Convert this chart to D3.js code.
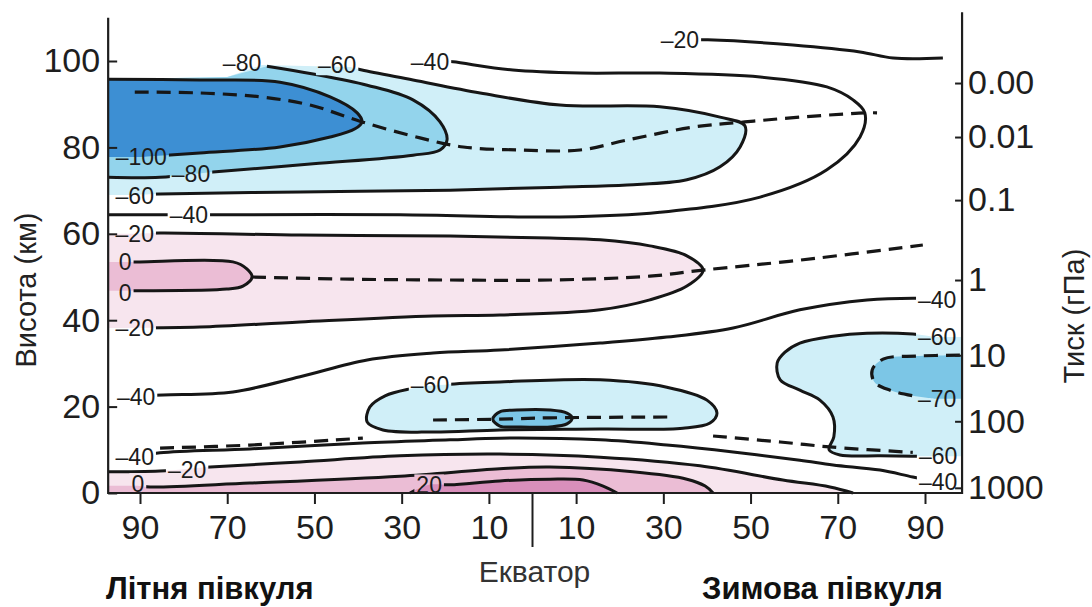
<!DOCTYPE html>
<html>
<head>
<meta charset="utf-8">
<script src="https://cdn.jsdelivr.net/npm/d3@7"></script>
<style>
  html, body { margin: 0; padding: 0; background: #fff; }
  svg { display: block; font-family: "Liberation Sans", Arial, Helvetica, sans-serif; }
</style>
</head>
<body>
<svg id="chart" width="1092" height="607"></svg>
<script>
// Zonal-mean temperature (°C) by latitude and altitude, solstice conditions.
// Latitude is signed: negative = summer hemisphere (left), positive = winter hemisphere (right).
// Every isotherm is a list of [latitude, altitude km] points.

const latTicks = [-90, -70, -50, -30, -10, 10, 30, 50, 70, 90];
const altTicks = [0, 20, 40, 60, 80, 100];
const pressureLabels = ["0.00", "0.01", "0.1", "1", "10", "100", "1000"];
const pressureAlt = [94.9, 82.4, 67.8, 49.3, 31.9, 16.6, 1.2];

// plot frame extents
const latLeft = -97.3, latRight = 98.5, altTopLeft = 110, altTopRight = 111.3;

// upper (mesosphere / thermosphere) isotherms
const isoM100 = [[-97.3,95.8],[-76.3,95.6],[-57.9,95.1],[-46.4,91.7],[-40.2,88.0],[-39.1,85.9],[-40.7,84.3],[-46.4,82.4],[-57.9,80.1],[-76.3,78.7],[-89.7,77.8]];
const isoM80 = [[-97.3,73.1],[-85.4,73.1],[-73.3,74.3],[-50.3,76.2],[-27.4,78.2],[-21.2,79.4],[-19.6,81.7],[-21.2,85.9],[-27.4,91.0],[-37.9,94.4],[-50.3,97.0],[-60.9,98.8]];
const isoM60Upper = [[-91.2,69.0],[-85.4,69.2],[-53.3,69.7],[-18.9,70.1],[6.3,70.8],[21.7,71.3],[35.4,72.5],[43.0,75.5],[47.6,80.1],[48.7,85.0],[43.0,87.0],[29.2,89.4],[6.3,89.8],[-12.0,92.6],[-27.4,95.6],[-39.1,97.9],[-41.8,98.6]];
const isoM40Upper = [[-97.3,64.4],[-72.8,64.4],[-30.4,64.4],[6.3,63.9],[29.2,65.0],[52.2,68.5],[67.5,74.8],[75.1,82.4],[76.2,88.0],[73.5,91.0],[67.5,94.0],[52.2,96.3],[29.2,97.2],[10.9,97.2],[-4.5,97.9],[-18.2,99.8],[-20.6,100.0]];
const isoM20Top = [[37.5,104.9],[40.2,104.9],[59.7,103.7],[75.1,102.1],[82.7,100.7],[94.1,100.7]];
const upperEdge = [[-62.0,99.1],[-70.0,96.3],[-97.3,95.8]];

// stratosphere isotherms
const isoM20Strat = [[-91.2,60.0],[-85.4,60.2],[-53.3,59.7],[-18.9,59.5],[4.0,59.0],[15.5,58.6],[26.9,57.2],[35.4,54.9],[39.1,51.6],[35.4,47.9],[26.9,44.7],[15.5,42.4],[-7.5,41.2],[-22.8,41.0],[-53.3,39.6],[-76.3,38.4],[-91.2,38.2]];
const iso0Strat = [[-93.4,53.5],[-90.0,53.5],[-68.7,53.5],[-65.5,51.9],[-64.3,50.0],[-66.4,47.9],[-70.1,47.2],[-90.0,46.8],[-93.4,46.8]];
const isoM40Mid = [[-90.9,22.4],[-84.7,22.7],[-68.7,23.4],[-53.3,26.9],[-37.9,30.8],[-22.8,32.4],[-7.5,33.1],[15.5,34.7],[30.8,36.1],[46.0,38.2],[61.3,42.4],[76.7,44.7],[88.2,45.1],[92.8,44.9]];
const isoM60Trop = [[-23.5,24.8],[-18.9,25.2],[-7.5,25.7],[15.5,26.2],[30.8,24.5],[40.0,21.5],[42.3,18.5],[40.7,16.2],[34.5,15.0],[15.5,14.8],[-7.5,14.6],[-22.8,14.1],[-34.3,14.6],[-37.9,16.4],[-37.3,19.9],[-33.8,22.5],[-28.1,24.1]];
const isoM70Trop = [[-9.1,17.1],[-7.5,18.8],[-3.6,19.2],[4.0,19.2],[7.9,18.5],[9.1,17.4],[7.9,16.0],[4.0,15.3],[-3.6,15.3],[-7.5,15.5]];
const isoM60Winter = [[92.3,36.1],[87.2,36.8],[76.7,37.0],[68.9,36.3],[61.3,34.7],[57.9,32.6],[56.1,30.1],[56.8,26.2],[61.3,23.8],[65.9,21.5],[68.9,17.6],[69.1,13.0],[68.0,10.0],[70.5,8.8],[79.7,8.6],[87.2,8.5],[92.3,8.5]];
const isoM70Winter = [[98.0,31.9],[88.2,31.7],[80.4,31.0],[77.9,28.5],[78.4,25.7],[82.0,23.8],[87.2,22.5],[92.3,21.8]];

// troposphere isotherms
const isoM40Low = [[-91.2,8.3],[-85.4,9.3],[-64.8,10.2],[-38.9,11.6],[-18.9,12.3],[-7.5,12.7],[15.5,12.3],[30.8,11.1],[46.0,9.5],[61.3,7.6],[68.9,6.5],[79.7,5.3],[87.2,3.7],[93.0,2.6]];
const isoM20Low = [[-97.3,4.9],[-85.4,5.1],[-73.9,6.0],[-53.3,7.2],[-30.4,8.6],[-7.5,9.0],[15.5,8.3],[38.4,6.3],[57.4,3.0],[68.2,1.4],[73.5,0]];
const iso0Low = [[-90.5,1.7],[-87.7,1.4],[-64.8,2.3],[-30.4,3.9],[-7.5,5.6],[4.0,6.0],[23.0,4.9],[35.4,3.2],[39.6,1.6],[41.4,0]];
const iso20 = [[-28.1,0],[-23.7,1.9],[-18.9,1.9],[-7.5,2.8],[4.0,3.2],[11.6,3.0],[16.2,1.6],[19.4,0]];

// temperature-minimum / maximum axes (mesopause, stratopause, tropopause)
const dashMeso = [[-91.2,92.8],[-76.3,92.6],[-62.5,91.7],[-51.0,89.8],[-39.1,85.9],[-25.8,82.2],[-15.9,80.1],[-2.9,79.4],[10.9,79.4],[21.7,81.7],[36.8,84.7],[48.7,85.9],[61.3,87.0],[76.2,88.0],[79.0,88.0]];
const dashStrato = [[-64.3,50.0],[-41.8,49.5],[-18.9,49.3],[4.0,49.3],[26.9,50.2],[39.1,51.6],[61.3,53.9],[89.5,57.4]];
const dashTropoSummer = [[-85.4,10.4],[-64.8,11.1],[-38.9,12.7]];
const dashTropoTropics = [[-22.8,16.9],[-7.5,17.1],[4.0,17.4],[31.5,17.6]];
const dashTropoWinter = [[41.4,13.2],[56.8,11.8],[68.9,10.6],[87.2,9.4]];

// isotherm value labels: [latitude, altitude, text]
const contourLabels = [
  [-89.7, 77.8, "–100"], [-78.3, 73.8, "–80"], [-91.2, 68.8, "–60"], [-78.8, 64.4, "–40"],
  [-91.2, 60.0, "–20"], [-93.4, 53.5, "0"], [-93.4, 46.3, "0"], [-91.2, 38.2, "–20"],
  [-90.9, 22.2, "–40"], [-23.5, 25.0, "–60"], [-91.2, 8.4, "–40"], [-79.2, 5.3, "–20"],
  [-90.5, 2.2, "0"], [-23.7, 1.9, "20"], [-66.6, 99.5, "–80"], [-44.8, 99.1, "–60"],
  [-23.5, 99.8, "–40"], [33.8, 104.9, "–20"], [92.8, 44.7, "–40"], [92.8, 36.1, "–60"],
  [92.8, 21.8, "–70"], [93.0, 8.6, "–60"], [93.0, 2.6, "–40"]
];

const colPinkLight = "#f7e5ee", colPink = "#ebbdd5", colPinkDeep = "#d98fbb";
const colCyanPale = "#d0eff8", colCyan = "#93d4ec", colBlue = "#3d8fd3", colCyanMid = "#7cc6e6";

const svg = d3.select("#chart");
const x = d3.scaleLinear().domain([-90, 90]).range([140, 925]);
const y = d3.scaleLinear().domain([0, 100]).range([493, 61]);

const line = d3.line().x(d => x(d[0])).y(d => y(d[1])).curve(d3.curveCatmullRom.alpha(0.5));
const lineClosed = d3.line().x(d => x(d[0])).y(d => y(d[1])).curve(d3.curveCatmullRomClosed.alpha(0.5));

// filled temperature bands, painted from the outermost to the innermost
const fills = [
  { pts: isoM20Strat, close: [[latLeft,38.2],[latLeft,60.0]], color: colPinkLight },
  { pts: iso0Strat, close: [[latLeft,46.8],[latLeft,53.5]], color: colPink },
  { pts: isoM60Upper, close: upperEdge.concat([[latLeft,69.0]]), color: colCyanPale },
  { pts: isoM80, close: upperEdge.slice(1), color: colCyan },
  { pts: isoM100, close: [[latLeft,77.8]], color: colBlue },
  { pts: isoM60Trop, closed: true, color: colCyanPale },
  { pts: isoM70Trop, closed: true, color: colCyanMid },
  { pts: isoM60Winter, close: [[latRight,8.5],[latRight,36.1]], color: colCyanPale },
  { pts: isoM70Winter, close: [[latRight,21.8],[latRight,31.9]], color: colCyanMid },
  { pts: isoM20Low, close: [[latLeft,0]], color: colPinkLight },
  { pts: iso0Low, close: [[latLeft,0],[latLeft,1.7]], color: colPink },
  { pts: iso20, close: [], color: colPinkDeep }
];

function fillPath(f) {
  if (f.closed) return lineClosed(f.pts);
  let d = line(f.pts);
  f.close.forEach(p => { d += "L" + x(p[0]) + "," + y(p[1]); });
  return d + "Z";
}

svg.append("g").selectAll("path").data(fills).join("path")
  .attr("d", fillPath).attr("fill", d => d.color).attr("stroke", "none");

// isotherm lines (cut where a value label sits on them)
const solid = [
  { pts: isoM100 }, { pts: isoM80 }, { pts: isoM60Upper }, { pts: isoM40Upper }, { pts: isoM20Top },
  { pts: isoM20Strat }, { pts: iso0Strat }, { pts: isoM40Mid },
  { pts: isoM60Trop, closed: true }, { pts: isoM70Trop, closed: true }, { pts: isoM60Winter },
  { pts: isoM40Low }, { pts: isoM20Low }, { pts: iso0Low }, { pts: iso20 }
];
const dashed = [isoM70Winter, dashMeso, dashStrato, dashTropoSummer, dashTropoTropics, dashTropoWinter];

const lineG = svg.append("g").attr("mask", "url(#lblMask)");
lineG.selectAll("path.iso").data(solid).join("path").attr("class", "iso")
  .attr("d", d => d.closed ? lineClosed(d.pts) : line(d.pts))
  .attr("fill", "none").attr("stroke", "#161616").attr("stroke-width", 3)
  .attr("stroke-linejoin", "round");
lineG.selectAll("path.dash").data(dashed).join("path").attr("class", "dash")
  .attr("d", line)
  .attr("fill", "none").attr("stroke", "#161616").attr("stroke-width", 3.2)
  .attr("stroke-dasharray", "14 8");

// value labels
const labelFont = 23;
const lblG = svg.append("g").attr("font-size", labelFont).attr("fill", "#1c1c1c");
lblG.selectAll("text").data(contourLabels).join("text")
  .attr("x", d => x(d[0])).attr("y", d => y(d[1])).attr("dy", "0.36em")
  .attr("text-anchor", "middle").text(d => d[2]);

const mask = svg.append("defs").append("mask").attr("id", "lblMask")
  .attr("maskUnits", "userSpaceOnUse").attr("x", 0).attr("y", 0).attr("width", 1092).attr("height", 607);
mask.append("rect").attr("width", 1092).attr("height", 607).attr("fill", "#fff");
lblG.selectAll("text").each(function (d) {
  const b = this.getBBox();
  mask.append("rect").attr("x", b.x - 2).attr("y", y(d[1]) - labelFont * 0.45)
    .attr("width", b.width + 4).attr("height", labelFont * 0.9).attr("fill", "#000");
});

// frame
svg.append("path")
  .attr("d", "M" + x(latLeft) + "," + y(altTopLeft) + "V" + y(0) + "H" + x(latRight) + "V" + y(altTopRight))
  .attr("fill", "none").attr("stroke", "#1e1e1e").attr("stroke-width", 2.2);

const tickFont = 34;
// latitude axis
const gx = svg.append("g").attr("transform", "translate(0," + y(0) + ")")
  .call(d3.axisBottom(x).tickValues(latTicks).tickFormat(d => Math.abs(d)).tickSize(11).tickPadding(11));
gx.select(".domain").remove();
gx.attr("font-size", tickFont).attr("font-family", null);
gx.selectAll("line").attr("stroke", "#1e1e1e").attr("stroke-width", 2);
gx.selectAll("text").attr("fill", "#1e1e1e");
// equator marker
svg.append("line").attr("x1", x(0)).attr("x2", x(0)).attr("y1", y(0)).attr("y2", y(0) + 54)
  .attr("stroke", "#1e1e1e").attr("stroke-width", 2);

// altitude axis
const gy = svg.append("g").attr("transform", "translate(" + x(latLeft) + ",0)")
  .call(d3.axisLeft(y).tickValues(altTicks).tickSize(-9).tickPadding(8));
gy.select(".domain").remove();
gy.attr("font-size", tickFont).attr("font-family", null);
gy.selectAll("line").attr("stroke", "#1e1e1e").attr("stroke-width", 2);
gy.selectAll("text").attr("fill", "#1e1e1e");

// pressure axis
const gp = svg.append("g").attr("transform", "translate(" + x(latRight) + ",0)")
  .call(d3.axisRight(y).tickValues(pressureAlt).tickFormat((d, i) => pressureLabels[i]).tickSize(-7).tickPadding(6));
gp.select(".domain").remove();
gp.attr("font-size", tickFont).attr("font-family", null);
gp.selectAll("line").attr("stroke", "#1e1e1e").attr("stroke-width", 2);
gp.selectAll("text").attr("fill", "#1e1e1e");

// axis titles
svg.append("text").attr("transform", "translate(26,290) rotate(-90)")
  .attr("text-anchor", "middle").attr("dy", "0.35em").attr("font-size", 29).attr("fill", "#222")
  .text("Висота (км)");
svg.append("text").attr("transform", "translate(1074,316) rotate(-90)")
  .attr("text-anchor", "middle").attr("dy", "0.35em").attr("font-size", 29).attr("fill", "#222")
  .text("Тиск (гПа)");

svg.append("text").attr("x", x(0) + 2).attr("y", 582).attr("text-anchor", "middle")
  .attr("font-size", 30).attr("fill", "#333").text("Екватор");
svg.append("text").attr("x", 106).attr("y", 599).attr("font-size", 31).attr("font-weight", "bold")
  .attr("fill", "#111").text("Літня півкуля");
svg.append("text").attr("x", 702).attr("y", 599).attr("font-size", 31).attr("font-weight", "bold")
  .attr("fill", "#111").text("Зимова півкуля");
</script>
</body>
</html>
